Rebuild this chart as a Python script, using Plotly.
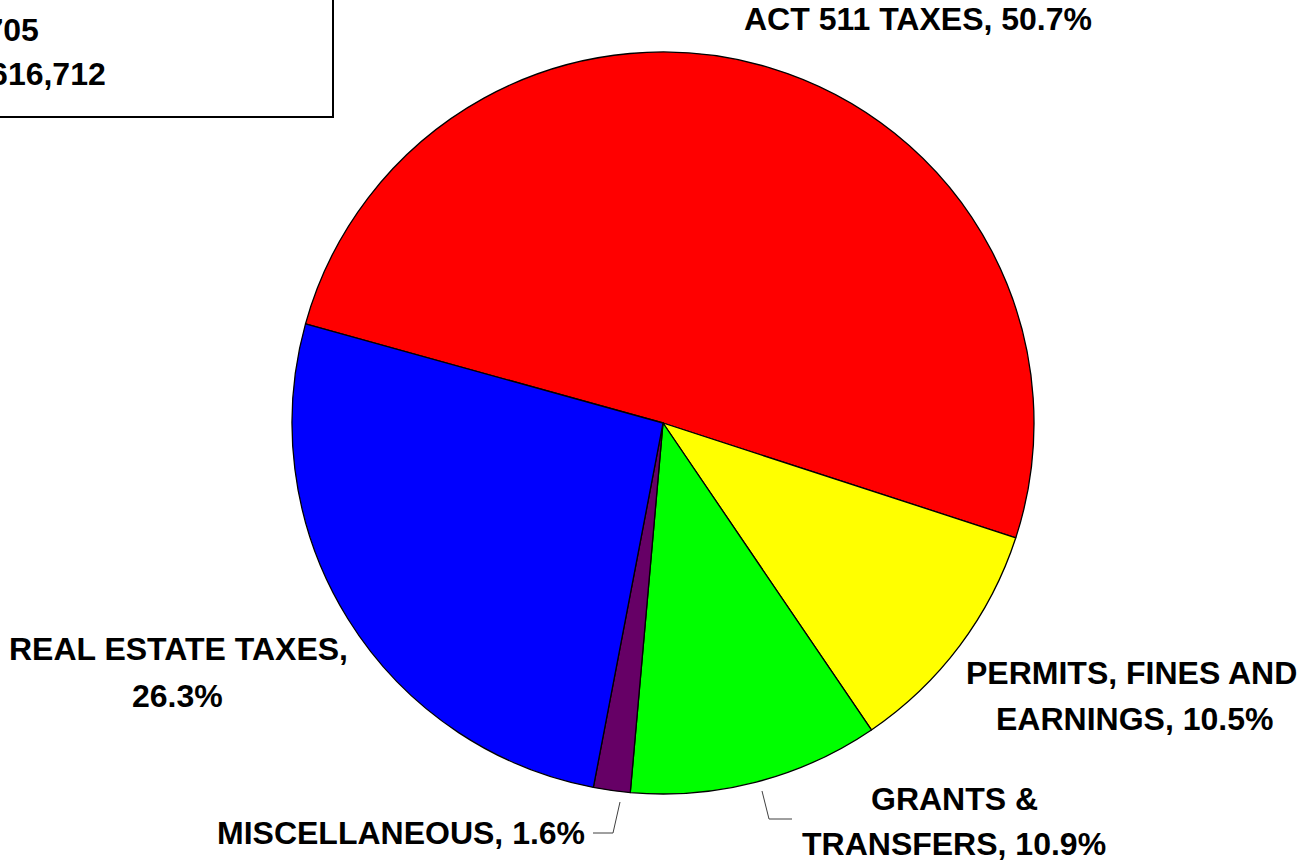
import plotly.graph_objects as go

# Data
categories = ["ACT 511 TAXES", "PERMITS, FINES AND EARNINGS", "GRANTS & TRANSFERS",
              "MISCELLANEOUS", "REAL ESTATE TAXES"]
shares = [50.7, 10.5, 10.9, 1.6, 26.3]
colors = ["#FF0000", "#FFFF00", "#00FF00", "#660066", "#0000FF"]
label_lines = [["ACT 511 TAXES, 50.7%"],
               ["PERMITS, FINES AND", "EARNINGS, 10.5%"],
               ["GRANTS &", "TRANSFERS, 10.9%"],
               ["MISCELLANEOUS, 1.6%"],
               ["REAL ESTATE TAXES,", "26.3%"]]
box_lines = ["BUDGET ORDINANCE NO. 705", "TOTAL REVENUES: $6,616,712"]

W, H = 1304, 861


def px(x):
    return x / W


def py(y):
    return 1 - y / H


FONT = dict(family="Liberation Sans, Arial, sans-serif", size=32, color="black", weight="bold")

fig = go.Figure()
cx, cy, r = 663, 423, 371
fig.add_trace(go.Pie(
    labels=categories,
    values=shares,
    sort=False,
    direction="clockwise",
    rotation=-74.5,
    marker=dict(colors=colors, line=dict(color="black", width=1.3)),
    textinfo="none",
    hoverinfo="label+percent",
    showlegend=False,
    domain=dict(x=[px(cx - r), px(cx + r)], y=[py(cy + r), py(cy - r)]),
))

# label line positions (pixel centres of each text line)
label_pos = [[(918, 20)],
             [(1131, 674), (1134, 720)],
             [(954, 800), (954, 845)],
             [(401, 834)],
             [(178, 650), (177, 697)]]
annotations = []
for lines, poss in zip(label_lines, label_pos):
    for txt, (x, y) in zip(lines, poss):
        annotations.append(dict(x=px(x), y=py(y - 1), xref="paper", yref="paper", text=txt,
                                showarrow=False, xanchor="center", yanchor="middle",
                                font=FONT))

# box texts (cut by left edge)
annotations.append(dict(x=px(41), y=py(30), xref="paper", yref="paper", text=box_lines[0],
                        showarrow=False, xanchor="right", yanchor="middle", font=FONT))
annotations.append(dict(x=px(108), y=py(74), xref="paper", yref="paper", text=box_lines[1],
                        showarrow=False, xanchor="right", yanchor="middle", font=FONT))

shapes = [
    dict(type="rect", xref="paper", yref="paper", x0=px(-10), x1=px(333), y0=py(117), y1=py(-10),
         line=dict(color="black", width=2), fillcolor="rgba(0,0,0,0)"),
    dict(type="path", xref="paper", yref="paper",
         path=f"M {px(593)},{py(833)} L {px(613)},{py(833)} L {px(620)},{py(802)}",
         line=dict(color="#404040", width=1)),
    dict(type="path", xref="paper", yref="paper",
         path=f"M {px(762)},{py(791)} L {px(769)},{py(819)} L {px(792)},{py(819)}",
         line=dict(color="#404040", width=1)),
]

fig.update_layout(
    width=W, height=H,
    margin=dict(l=0, r=0, t=0, b=0),
    paper_bgcolor="white", plot_bgcolor="white",
    annotations=annotations, shapes=shapes,
)

fig.write_html("out.html", config={"displayModeBar": False},
               post_script="document.body.style.margin='0';")
